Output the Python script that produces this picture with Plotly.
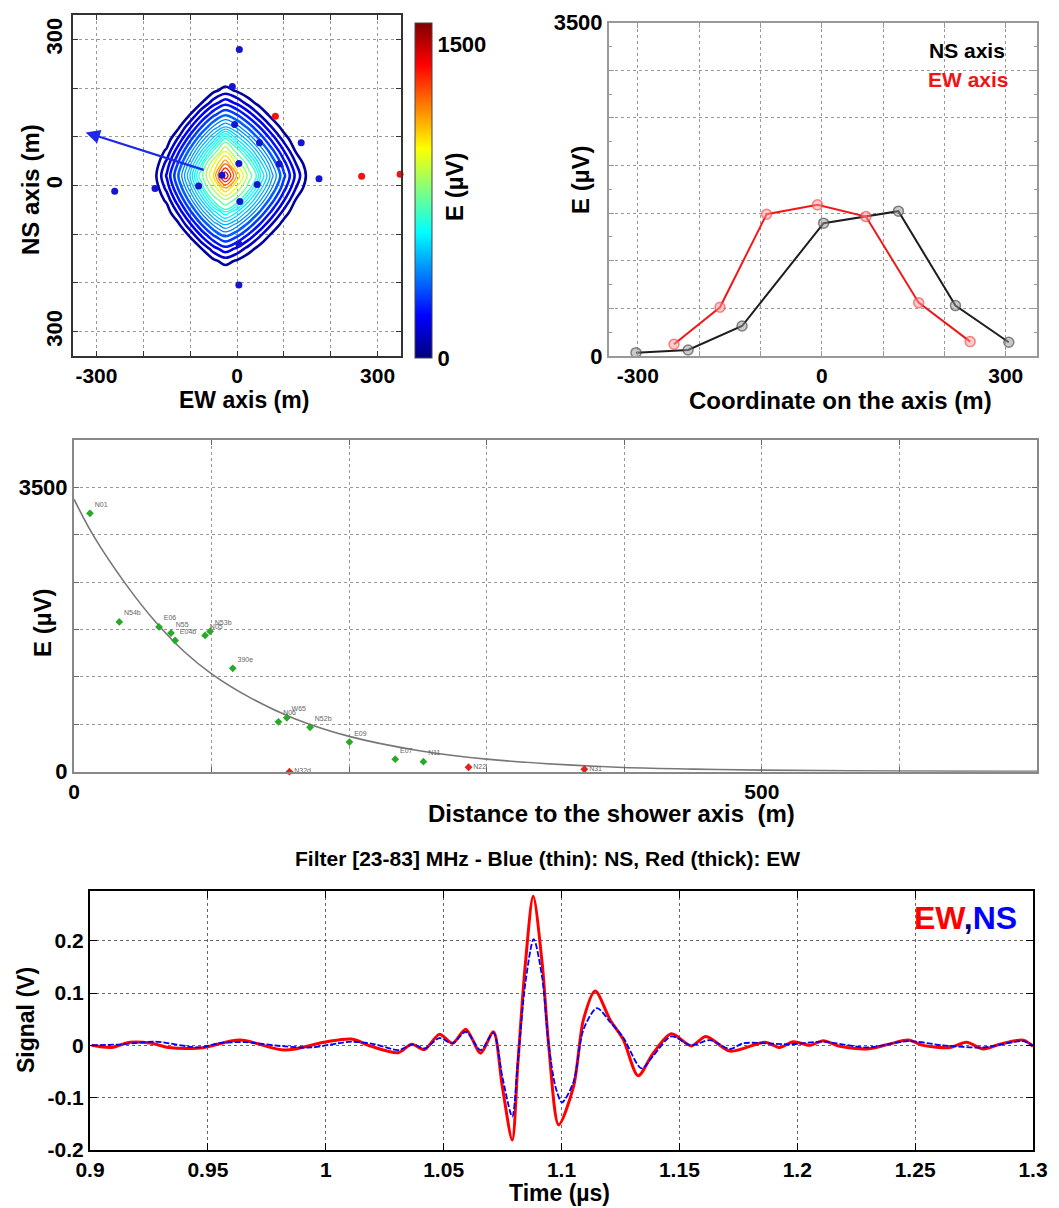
import plotly.graph_objects as go

W, H = 1059, 1208
FONT = "Liberation Sans"


def px(p):
    return p / W


def py(p):
    return 1 - p / H


# ---------------- Panel 1: radio footprint map (estimated field, µV) ----------------
map_grid_x = [-225, -200, -175, -150, -125, -100, -75, -50, -25, 0, 25, 50, 75, 100, 125, 150, 175]
map_grid_y = [-205, -180, -155, -130, -105, -80, -55, -30, -5, 20, 45, 70, 95, 120, 145, 170, 195, 220, 245]
map_field_uV = [
    [0, 0, 0, 0, 0, 0, 0, 0, 0, 0, 0, 0, 0, 0, 0, 0, 0],
    [0, 0, 0, 0, 0, 0, 0, 0, 0, 0, 0, 0, 0, 0, 0, 0, 0],
    [0, 0, 0, 0, 0, 0, 0, 34, 75, 40, 0, 0, 0, 0, 0, 0, 0],
    [0, 0, 0, 0, 0, 0, 50, 142, 207, 155, 80, 18, 0, 0, 0, 0, 0],
    [0, 0, 0, 0, 0, 52, 169, 277, 346, 291, 203, 104, 23, 0, 0, 0, 0],
    [0, 0, 0, 0, 38, 160, 294, 410, 485, 425, 330, 221, 106, 19, 0, 0, 0],
    [0, 0, 0, 13, 123, 273, 415, 540, 632, 558, 454, 336, 211, 87, 4, 0, 0],
    [0, 0, 0, 64, 218, 377, 529, 692, 847, 720, 575, 445, 312, 175, 48, 0, 0],
    [0, 0, 11, 132, 300, 466, 638, 893, 1161, 935, 705, 538, 398, 255, 114, 13, 0],
    [0, 0, 33, 178, 351, 523, 735, 1076, 1560, 1141, 813, 606, 452, 305, 158, 35, 0],
    [0, 0, 11, 132, 300, 466, 638, 950, 1250, 935, 705, 538, 398, 255, 114, 13, 0],
    [0, 0, 0, 64, 218, 377, 529, 692, 960, 720, 575, 445, 312, 175, 48, 0, 0],
    [0, 0, 0, 13, 123, 273, 415, 540, 700, 558, 454, 336, 211, 87, 4, 0, 0],
    [0, 0, 0, 0, 38, 160, 294, 410, 485, 425, 330, 221, 106, 19, 0, 0, 0],
    [0, 0, 0, 0, 0, 52, 169, 277, 346, 291, 203, 104, 23, 0, 0, 0, 0],
    [0, 0, 0, 0, 0, 0, 50, 142, 207, 155, 80, 18, 0, 0, 0, 0, 0],
    [0, 0, 0, 0, 0, 0, 0, 34, 75, 40, 0, 0, 0, 0, 0, 0, 0],
    [0, 0, 0, 0, 0, 0, 0, 0, 0, 0, 0, 0, 0, 0, 0, 0, 0],
    [0, 0, 0, 0, 0, 0, 0, 0, 0, 0, 0, 0, 0, 0, 0, 0, 0],
]
stations_blue_x = [5, -10, -5, 48, 137, 4, 90, -32, 175, -82, 43, -175, -261, 6, 4, 4]
stations_blue_y = [279, 203, 125, 88, 88, 45, 44, 21, 14, -1, 2, -6, -12, -33, -120, -204]
stations_red_x = [82, 266, 348]
stations_red_y = [142, 19, 23]
shower_axis_tail = [-68, 31]
shower_axis_head = [-323, 109]
map_ticks = [-300, -200, -100, 0, 100, 200, 300]
map_x_ticklabels = ["-300", "", "", "0", "", "", "300"]
map_y_ticklabels = ["300", "", "", "0", "", "", "300"]
colorbar_ticks = [0, 1500]
colorbar_ticklabels = ["0", "1500"]

# ---------------- Panel 2: profiles along the axes ----------------
ns_coord = [-303, -218, -130, 3, 125, 218, 305]
ns_E = [35, 63, 315, 1395, 1521, 529, 144]
ew_coord = [-241, -166, -90, -7, 72, 158, 242]
ew_E = [123, 512, 1489, 1587, 1464, 560, 151]
prof_x_ticks = [-300, -200, -100, 0, 100, 200, 300]
prof_x_ticklabels = ["-300", "", "", "0", "", "", "300"]
prof_y_ticks = [0, 500, 1000, 1500, 2000, 2500, 3000, 3500]
prof_y_ticklabels = ["0", "", "", "", "", "", "", "3500"]

# ---------------- Panel 3: lateral distribution ----------------
dist_green = [11.6, 32.9, 61.8, 70.5, 73.5, 95.3, 98.9, 115.4, 148.6, 154.7, 171.6, 200.2, 233.5, 254]
E_green = [3181, 1844, 1782, 1707, 1615, 1677, 1727, 1272, 614, 664, 547, 365, 154, 124]
green_labels = ["N01", "N54b", "E06", "N55", "E04b", "N05", "N53b", "390e", "N06", "W65", "N52b", "E09", "E07", "N11"]
dist_red = [156.6, 286.8, 371]
E_red = [0, 55, 30]
red_labels = ["N32d", "N22", "N31"]
fit_dist = [0, 14, 38, 60, 80, 100, 128, 160, 200, 250, 300, 395, 450, 500, 600, 700]
fit_E = [3355, 2909, 2300, 1830, 1480, 1205, 912, 656, 435, 262, 155, 55, 32, 20, 8, 4]
lat_x_ticks = [0, 100, 200, 300, 400, 500, 600, 700]
lat_x_ticklabels = ["0", "", "", "", "", "500", "", ""]
lat_y_ticklabels = ["0", "", "", "", "", "", "3500"]

# ---------------- Panel 4: filtered signals ----------------
t_ew = [0.9007, 0.9092, 0.9170, 0.9261, 0.9332, 0.9467, 0.9636, 0.9827, 1.0003, 1.0110,
        1.0194, 1.0308, 1.0364, 1.0419, 1.0482, 1.0538, 1.0594, 1.0657, 1.0711, 1.0749,
        1.0791, 1.0815, 1.0847, 1.0880, 1.0918, 1.0946, 1.0988, 1.1051, 1.1093, 1.1143,
        1.1206, 1.1262, 1.1325, 1.1389, 1.1466, 1.1550, 1.1613, 1.1715, 1.1863, 1.1927,
        1.1983, 1.2054, 1.2110, 1.2181, 1.2294, 1.2379, 1.2470, 1.2534, 1.2647, 1.2718,
        1.2788, 1.2859, 1.2958, 1.3000]
v_ew = [0.000, -0.004, 0.006, 0.004, -0.004, -0.005, 0.010, -0.009, 0.007, 0.012,
        -0.002, -0.014, 0.002, -0.008, 0.021, 0.004, 0.031, -0.015, 0.026, -0.079,
        -0.181, -0.034, 0.157, 0.285, 0.157, -0.002, -0.152, -0.079, 0.049, 0.104,
        0.049, 0.011, -0.058, -0.015, 0.022, -0.001, 0.017, -0.011, 0.006, -0.004,
        0.007, 0.000, 0.009, -0.002, -0.007, 0.001, 0.010, 0.000, -0.004, 0.006,
        -0.007, 0.002, 0.010, -0.002]
t_ns = [0.9007, 0.9134, 0.9276, 0.9467, 0.9545, 0.9658, 0.9827, 0.9940, 1.0053, 1.0110,
        1.0209, 1.0308, 1.0370, 1.0419, 1.0482, 1.0538, 1.0594, 1.0657, 1.0711, 1.0749,
        1.0791, 1.0815, 1.0847, 1.0882, 1.0918, 1.0946, 1.0975, 1.1002, 1.1051, 1.1093,
        1.1150, 1.1206, 1.1262, 1.1339, 1.1389, 1.1466, 1.1550, 1.1630, 1.1715, 1.1771,
        1.1969, 1.2110, 1.2294, 1.2470, 1.2619, 1.2788, 1.2958, 1.3000]
v_ns = [0.000, 0.002, 0.007, -0.004, 0.004, 0.006, -0.002, -0.004, 0.004, 0.007,
        0.002, -0.009, 0.002, -0.006, 0.014, 0.004, 0.026, -0.009, 0.024, -0.060,
        -0.136, -0.030, 0.120, 0.203, 0.130, 0.000, -0.080, -0.109, -0.070, 0.030,
        0.071, 0.045, 0.015, -0.044, -0.020, 0.017, 0.000, 0.010, -0.007, 0.004,
        0.002, 0.007, -0.004, 0.008, 0.000, -0.004, 0.008, 0.000]
sig_x_ticks = [0.9, 0.95, 1.0, 1.05, 1.1, 1.15, 1.2, 1.25, 1.3]
sig_x_ticklabels = ["0.9", "0.95", "1", "1.05", "1.1", "1.15", "1.2", "1.25", "1.3"]
sig_y_ticks = [-0.2, -0.1, 0, 0.1, 0.2]
sig_y_ticklabels = ["-0.2", "-0.1", "0", "0.1", "0.2"]

# ---------------------------------------------------------------
ZMAX = 1600


def jet(v):
    def c(x):
        return int(round(255 * min(max(x, 0.0), 1.0)))
    return "rgb(%d,%d,%d)" % (c(1.5 - abs(4 * v - 3)), c(1.5 - abs(4 * v - 2)), c(1.5 - abs(4 * v - 1)))


JET = [[k / 16, jet(k / 16)] for k in range(17)]


def level_scale(start, size, n):
    return [[k / (n - 1), jet((start + k * size) / ZMAX)] for k in range(n)]


fig = go.Figure()

for (start, size, n, width) in [(50, 60, 6, 2.6), (400, 40, 8, 1.3), (760, 100, 8, 1.3)]:
    fig.add_trace(go.Contour(
        x=map_grid_x, y=map_grid_y, z=map_field_uV, xaxis="x", yaxis="y",
        autocontour=False,
        contours=dict(coloring="lines", start=start, end=start + (n - 1) * size, size=size),
        colorscale=level_scale(start, size, n),
        line=dict(width=width, smoothing=1.0),
        showscale=False, hoverinfo="skip",
    ))

# colour bar of the map
fig.add_trace(go.Scatter(
    x=[0], y=[0], mode="markers", xaxis="x", yaxis="y", hoverinfo="skip",
    marker=dict(size=1, opacity=0, color=[0], cmin=0, cmax=ZMAX, colorscale=JET, showscale=True,
                colorbar=dict(
                    x=px(415), xanchor="left", y=py(358), yanchor="bottom",
                    len=(358 - 23) / H, thickness=17, outlinewidth=1, outlinecolor="#444",
                    xpad=0, ypad=0,
                    tickvals=colorbar_ticks, ticktext=colorbar_ticklabels, ticks="",
                    tickfont=dict(family=FONT, size=22, color="black", weight="bold"),
                )),
))
fig.add_trace(go.Scatter(
    x=stations_blue_x, y=stations_blue_y, mode="markers", xaxis="x", yaxis="y",
    marker=dict(color="rgb(20,20,210)", size=7),
))
fig.add_trace(go.Scatter(
    x=stations_red_x, y=stations_red_y, mode="markers", xaxis="x", yaxis="y",
    marker=dict(color="rgb(240,20,20)", size=7), cliponaxis=False,
))

# Panel 2
fig.add_trace(go.Scatter(
    x=ns_coord, y=ns_E, mode="lines+markers", xaxis="x2", yaxis="y2",
    line=dict(color="rgb(30,30,30)", width=2),
    marker=dict(symbol="circle", size=10, color="rgba(150,150,150,0.5)",
                line=dict(color="rgba(60,60,60,0.6)", width=1.5)),
))
fig.add_trace(go.Scatter(
    x=ew_coord, y=ew_E, mode="lines+markers", xaxis="x2", yaxis="y2",
    line=dict(color="rgb(240,25,25)", width=2),
    marker=dict(symbol="circle", size=10, color="rgba(255,150,150,0.5)",
                line=dict(color="rgba(240,60,60,0.6)", width=1.5)),
))

# Panel 3
fig.add_trace(go.Scatter(
    x=fit_dist, y=fit_E, mode="lines", xaxis="x3", yaxis="y3",
    line=dict(color="#777", width=1.6, shape="spline"),
))
fig.add_trace(go.Scatter(
    x=dist_green, y=E_green, mode="markers+text", xaxis="x3", yaxis="y3",
    text=green_labels, textposition="top right",
    textfont=dict(family=FONT, size=7, color="#666"),
    marker=dict(symbol="diamond", size=6, color="rgb(40,170,40)"),
))
fig.add_trace(go.Scatter(
    x=dist_red, y=E_red, mode="markers+text", xaxis="x3", yaxis="y3",
    text=red_labels, textposition="middle right",
    textfont=dict(family=FONT, size=7, color="#666"),
    marker=dict(symbol="diamond", size=6, color="rgb(230,30,30)"),
    cliponaxis=False,
))

# Panel 4
fig.add_trace(go.Scatter(
    x=t_ew, y=v_ew, mode="lines", xaxis="x4", yaxis="y4",
    line=dict(color="rgb(255,0,0)", width=3, shape="spline", smoothing=0.8),
))
fig.add_trace(go.Scatter(
    x=t_ns, y=v_ns, mode="lines", xaxis="x4", yaxis="y4",
    line=dict(color="rgb(0,0,255)", width=1.8, dash="6px,2px", shape="spline", smoothing=0.8),
))

tickfont = dict(family=FONT, size=22, color="black", weight="bold")
xtickfont = dict(family=FONT, size=21, color="black", weight="bold")
small_tickfont = dict(family=FONT, size=21, color="black", weight="bold")


def axis(**kw):
    d = dict(ticks="inside", ticklen=5, tickcolor="#333", showline=True,
             linecolor="#333", linewidth=2, mirror="ticks", tickfont=tickfont,
             showgrid=True, gridcolor="#999", griddash="dot", gridwidth=1,
             zeroline=False, automargin=False)
    d.update(kw)
    return d


fig.update_layout(
    width=W, height=H, margin=dict(l=0, r=0, t=0, b=0, autoexpand=False),
    paper_bgcolor="white", plot_bgcolor="white", showlegend=False,
    font=dict(family=FONT, color="black"),
    xaxis=axis(domain=[px(73), px(401)], range=[-350, 350], anchor="y",
               tickvals=map_ticks, ticktext=map_x_ticklabels, tickfont=xtickfont),
    yaxis=axis(domain=[py(356), py(15)], range=[-350, 350], anchor="x",
               tickvals=map_ticks, ticktext=map_y_ticklabels, tickangle=-90),
    xaxis2=axis(domain=[px(609), px(1037)], range=[-347, 351], anchor="y2",
                tickvals=prof_x_ticks, ticktext=prof_x_ticklabels, tickfont=xtickfont,
                linecolor="#999", tickcolor="#999"),
    yaxis2=axis(domain=[py(356), py(22.7)], range=[0, 3500], anchor="x2",
                tickvals=prof_y_ticks, ticktext=prof_y_ticklabels,
                linecolor="#999", tickcolor="#999",
                minor=dict(tickvals=[250, 750, 1250, 1750, 2250, 2750, 3250],
                           ticks="inside", ticklen=3, tickcolor="#999", showgrid=False)),
    xaxis3=axis(domain=[px(74), px(1037)], range=[0, 700], anchor="y3",
                tickvals=lat_x_ticks, ticktext=lat_x_ticklabels, tickfont=xtickfont,
                linecolor="#888", tickcolor="#666"),
    yaxis3=axis(domain=[py(771.7), py(440)], range=[0, 3500 * 7 / 6], anchor="x3",
                tickvals=[3500 * i / 6 for i in range(7)], ticktext=lat_y_ticklabels,
                linecolor="#888", tickcolor="#666"),
    xaxis4=axis(domain=[px(90), px(1033)], range=[0.9, 1.3], anchor="y4",
                tickvals=sig_x_ticks, ticktext=sig_x_ticklabels, tickfont=small_tickfont,
                linecolor="black", tickcolor="black", gridcolor="#666", ticklen=7),
    yaxis4=axis(domain=[py(1150), py(891)], range=[-0.2, 0.295], anchor="x4",
                tickvals=sig_y_ticks, ticktext=sig_y_ticklabels, tickfont=small_tickfont,
                linecolor="black", tickcolor="black", gridcolor="#666", ticklen=7),
)


def label(text, x, y, size=24, angle=0, color="black"):
    fig.add_annotation(
        text=text, x=px(x), y=py(y), xref="paper", yref="paper",
        showarrow=False, textangle=angle, xanchor="center", yanchor="middle",
        font=dict(family=FONT, size=size, color=color, weight="bold"),
    )


label("EW axis (m)", 244, 400, size=23)
label("NS axis (m)", 31, 190, angle=-90)
label("E (µV)", 454, 187, angle=-90)
label("E (µV)", 581, 180, angle=-90)
label("Coordinate on the axis (m)", 840, 400)
label("NS axis", 967, 50, size=21)
label("EW axis", 968, 79, size=21, color="rgb(240,20,20)")
label("E (µV)", 42, 623, angle=-90)
label("Distance to the shower axis  (m)", 611, 813)
label("Filter [23-83] MHz - Blue (thin): NS, Red (thick): EW", 547, 858, size=21)
label("Signal (V)", 26, 1020, angle=-90, size=23)
label("Time (µs)", 559, 1193, size=23)
label('<span style="color:rgb(255,0,0)">EW</span>,<span style="color:rgb(0,0,255)">NS</span>',
      965, 918, size=32, color="rgb(0,0,120)")

fig.add_annotation(
    x=shower_axis_head[0], y=shower_axis_head[1], ax=shower_axis_tail[0], ay=shower_axis_tail[1],
    xref="x", yref="y", axref="x", ayref="y", text="", showarrow=True,
    arrowhead=2, arrowsize=1.3, arrowwidth=2.2, arrowcolor="rgb(30,40,230)",
)

fig.write_html(
    "out.html",
    config={"displayModeBar": False},
    post_script="document.body.style.margin='0';document.body.style.overflow='hidden';",
)
